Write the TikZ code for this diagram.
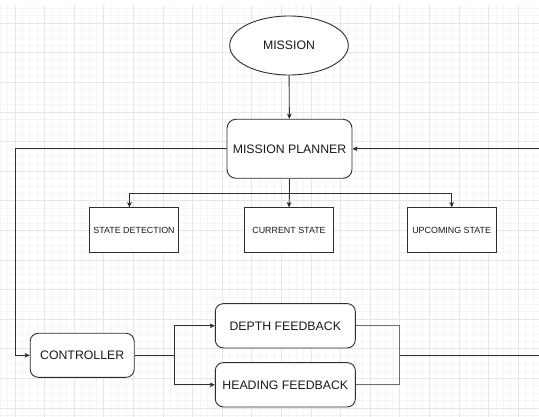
\documentclass[tikz,border=0pt]{standalone}
\usepackage{fontspec}
\setmainfont{Liberation Sans}
\usetikzlibrary{shapes.geometric,arrows.meta}
\definecolor{gridminor}{HTML}{F5F5F5}
\definecolor{gridmajor}{HTML}{E6E6E6}
\definecolor{ink}{HTML}{2E2E2E}
\definecolor{wire}{HTML}{6E6E6E}

\begin{document}
\begin{tikzpicture}[x=1pt,y=-1pt,
  font=\fontsize{12.3}{14}\selectfont,
  base/.style={draw=ink, line width=0.9pt, fill=white, text=black!90,
    align=center, inner sep=0pt},
  roundbox/.style={base, rounded corners=8pt, minimum height=44pt},
  statebox/.style={base, rectangle, minimum width=89pt, minimum height=44.5pt,
    font=\fontsize{8.9}{10}\selectfont},
  link/.style={draw=ink, line width=0.9pt},
  arrow/.style={link, -{Stealth[length=5pt,width=4.6pt,inset=1pt]}},
  feed/.style={draw=wire, line width=1pt}
]
% canvas and page size
\fill[white] (0,0) rectangle (539,417);
\useasboundingbox (0,0) rectangle (539,417);

% background grid: fine lines, then every fourth line stronger
\foreach \i in {0,...,73} {
  \draw[gridminor, line width=0.8pt] ({0.2+7.4*\i},5) -- ({0.2+7.4*\i},417);
}
\foreach \j in {0,...,55} {
  \draw[gridminor, line width=0.8pt] (0,{8.5+7.4*\j}) -- (539,{8.5+7.4*\j});
}
\foreach \i in {0,...,18} {
  \draw[gridmajor, line width=0.9pt] ({15+29.6*\i},5) -- ({15+29.6*\i},417);
}
\foreach \j in {0,...,13} {
  \draw[gridmajor, line width=0.9pt] (0,{23.3+29.6*\j}) -- (539,{23.3+29.6*\j});
}

% nodes
\node[base, ellipse, minimum width=118.6pt, minimum height=59pt] (mission) at (289,45.5) {MISSION};
\node[roundbox, minimum width=125pt, minimum height=59pt, rounded corners=9pt] (planner) at (289.5,148.8) {MISSION PLANNER};

\node[statebox] (detect) at (134,230) {STATE DETECTION};
\node[statebox] (current) at (289,230) {CURRENT STATE};
\node[statebox] (upcoming) at (451.7,230) {UPCOMING STATE};

\node[roundbox, minimum width=104pt] (ctrl) at (82.2,355.3) {CONTROLLER};
\node[roundbox, minimum width=140pt, minimum height=44.3pt] (depth) at (285.3,325.8) {DEPTH FEEDBACK};
\node[roundbox, minimum width=140pt, minimum height=44.3pt] (heading) at (285.3,384.8) {HEADING FEEDBACK};

% routing points
\coordinate (branch) at (289.5,193.3);
\coordinate (loopL) at (15.5,250);
\coordinate (split) at (174.6,355.3);
\coordinate (merge) at (399.8,355.3);
\coordinate (outR) at (539,355.3);
\coordinate (inR) at (539,148.8);

% connectors
\draw[arrow] (mission) -- (planner);
\draw[arrow] (planner.west) -| (loopL) |- (ctrl.west);
\draw[arrow] (inR) -- (planner.east);

\draw[link] (planner.south) -- (branch);
\draw[arrow] (branch) -| ([xshift=-4.6pt]detect.north);
\draw[arrow] (branch) -- (current.north);
\draw[arrow] (branch) -| (upcoming.north);

\draw[link] (ctrl.east) -- (split);
\draw[arrow] (split) |- (depth.west);
\draw[arrow] (split) |- (heading.west);

\draw[feed] (depth.east) -| (merge);
\draw[feed] (heading.east) -| (merge);
\draw[link] (merge) -- (outR);
\end{tikzpicture}
\end{document}
